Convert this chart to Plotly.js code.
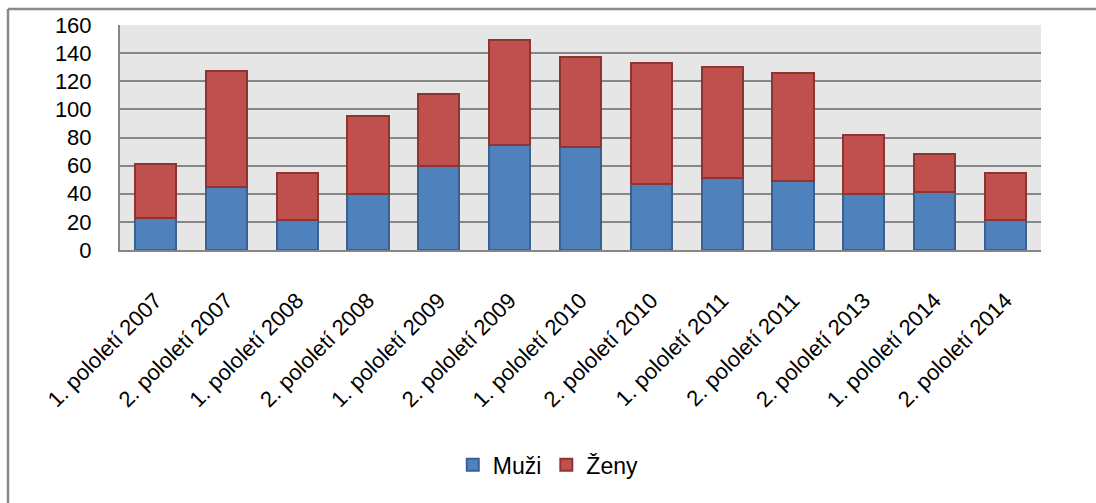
<!DOCTYPE html>
<html>
<head>
<meta charset="utf-8">
<script src="https://cdn.plot.ly/plotly-3.0.1.min.js"></script>
<style>html,body{margin:0;padding:0;background:#fff;}#chart{width:1096px;height:503px;}</style>
</head>
<body>
<div id="chart"></div>
<script>
const categories = ["1. pololetí 2007","2. pololetí 2007","1. pololetí 2008","2. pololetí 2008","1. pololetí 2009","2. pololetí 2009","1. pololetí 2010","2. pololetí 2010","1. pololetí 2011","2. pololetí 2011","2. pololetí 2013","1. pololetí 2014","2. pololetí 2014"];
const muzi = [23, 45, 21, 40, 60, 75, 73, 47, 51, 49, 40, 41, 21];
const zeny = [38, 82, 34, 55, 51, 74, 64, 86, 79, 77, 42, 27, 34];
const yTicks = [0, 20, 40, 60, 80, 100, 120, 140, 160];

const fontFam = "Liberation Sans, Arial, sans-serif";
const traces = [
  {type:"bar", name:"Muži", x:categories, y:muzi,
   marker:{color:"#4f81bd", line:{color:"#3a6190", width:2}}},
  {type:"bar", name:"Ženy", x:categories, y:zeny,
   marker:{color:"#c0504d", line:{color:"#8e3533", width:2}}}
];
const frameLine = {color:"#8a8a8a", width:2.5};
const layout = {
  width:1096, height:503,
  barmode:"stack", bargap:0.42,
  paper_bgcolor:"#ffffff", plot_bgcolor:"#e6e6e6",
  margin:{l:120, r:55, t:25, b:253, autoexpand:false},
  font:{family:fontFam, size:22, color:"#000"},
  xaxis:{type:"category", tickangle:-45, showgrid:false, showline:true, linecolor:"#868686", linewidth:2,
         ticks:"", ticklabelstandoff:27, tickfont:{size:22, family:fontFam}, automargin:false},
  yaxis:{range:[0,160], tickvals:yTicks, ticktext:yTicks.map(String), showgrid:true, gridcolor:"#868686", gridwidth:2,
         showline:true, linecolor:"#868686", linewidth:2, zeroline:false, ticks:"", ticklabelstandoff:22,
         tickfont:{size:22, family:fontFam}, automargin:false},
  showlegend:true,
  legend:{orientation:"h", x:0.465, xanchor:"center", y:-0.955, yanchor:"middle",
          font:{size:23, family:fontFam}, itemwidth:30, bgcolor:"rgba(0,0,0,0)", traceorder:"normal"},
  shapes:[
    {type:"line", xref:"paper", yref:"paper", x0:-0.1216, x1:1.1, y0:1.071, y1:1.071, line:frameLine, layer:"below"},
    {type:"line", xref:"paper", yref:"paper", x0:-0.1216, x1:-0.1216, y0:-1.2, y1:1.071, line:frameLine, layer:"below"}
  ]
};
Plotly.newPlot("chart", traces, layout, {staticPlot:true, displayModeBar:false});
</script>
</body>
</html>
